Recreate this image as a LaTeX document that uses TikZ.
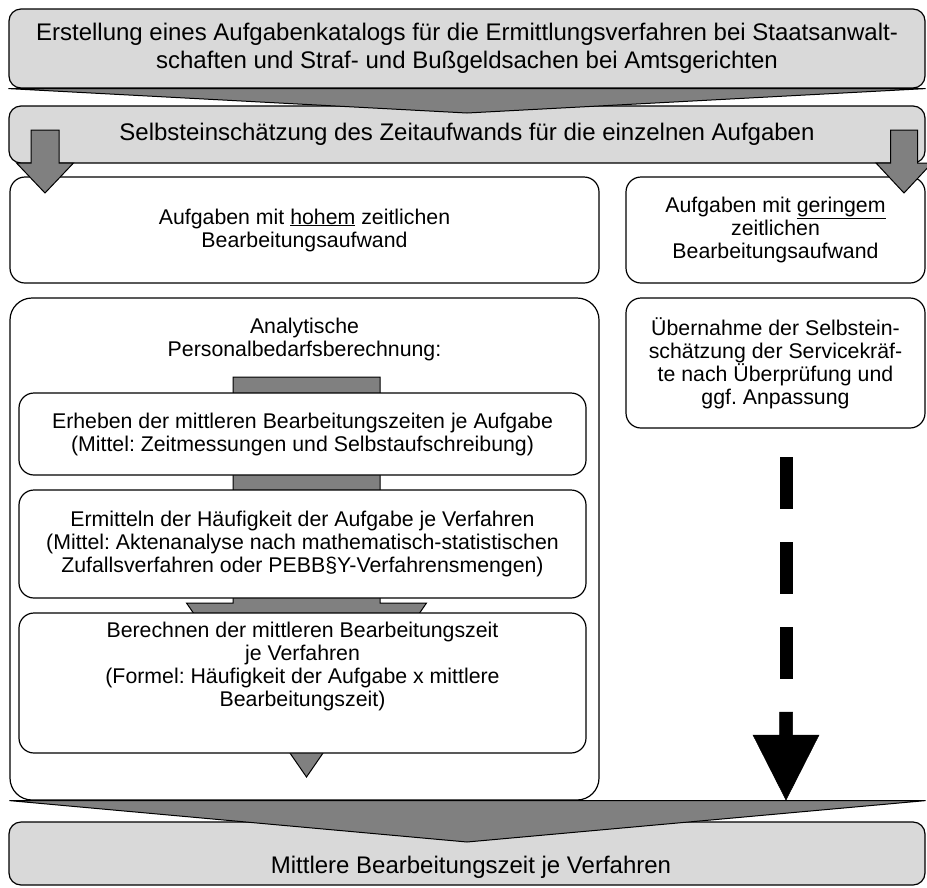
\documentclass[tikz,border=0pt]{standalone}
\usepackage{fontspec}
\setmainfont{Liberation Sans}
\usetikzlibrary{positioning}
\frenchspacing

\definecolor{hellgrau}{RGB}{217,217,217}
\definecolor{dunkelgrau}{RGB}{128,128,128}

% block arrow pointing down: style, x, shaft top, head top, tip, half shaft, half head
\newcommand{\blockpfeil}[7]{%
  \filldraw[#1] (#2-#6,#3) -- (#2+#6,#3) -- (#2+#6,#4) -- (#2+#7,#4) -- (#2,#5)
    -- (#2-#7,#4) -- (#2-#6,#4) -- cycle;}

\begin{document}
\begin{tikzpicture}[x=1pt, y=1pt, line width=1.2pt,
    grey node/.style={rectangle, rounded corners=12pt, draw, fill=hellgrau, font=\fontsize{24}{28.5}\selectfont},
    white node/.style={rectangle, rounded corners=15pt, draw, fill=white},
    dark arrow/.style={draw, fill=dunkelgrau, line width=1pt},
    black arrow/.style={fill=black, line width=0.5pt}]
            \tikzstyle{every node}=[font=\fontsize{21.3}{23}\selectfont, align=center]

            \useasboundingbox (0,0) rectangle (927,-887);

              \node[grey node, minimum width=916pt, minimum height=79pt] (1) at (467,-48.5) {Erstellung eines Aufgabenkatalogs für die Ermittlungsverfahren bei Staatsanwalt-\\schaften und Straf- und Bußgeldsachen bei Amtsgerichten};
              \node[grey node, minimum width=916pt, minimum height=57pt] (2) at (467,-134.5) {Selbsteinschätzung des Zeitaufwands für die einzelnen Aufgaben};
              \filldraw[dark arrow] (1.south west) -- (1.south east) -- (467,-113) -- cycle;

              \node[white node, minimum width=589pt, minimum height=106pt] (3) at (304.5,-230) {Aufgaben mit \underline{hohem} zeitlichen\\Bearbeitungsaufwand};
              \node[white node, minimum width=299pt, minimum height=106pt] (4) at (775.5,-230) {Aufgaben mit \underline{geringem}\\zeitlichen\\Bearbeitungsaufwand};
              \blockpfeil{dark arrow}{45}{-130}{-163}{-193}{14}{28.5}
              \blockpfeil{dark arrow}{904}{-130}{-163}{-193}{13.5}{28}

              \node[white node, rounded corners=22pt, minimum width=589pt, minimum height=502pt] (5) at (304.5,-549) {};
              \node[below=17pt of 5.north] (5a) {Analytische\\Personalbedarfsberechnung:};
              \node[white node, minimum width=299pt, minimum height=130pt] (6) at (775.5,-363) {Übernahme der Selbstein-\\schätzung der Servicekräf-\\te nach Überprüfung und\\ggf. Anpassung};

              \blockpfeil{dark arrow}{306.5}{-377}{-603}{-777}{73.5}{120}
              \node[white node, minimum width=567pt, minimum height=82pt] (7) at (302.5,-434) {Erheben der mittleren Bearbeitungszeiten je Aufgabe\\(Mittel: Zeitmessungen und Selbstaufschreibung)};
              \node[white node, minimum width=567pt, minimum height=108pt] (8) at (302.5,-544) {Ermitteln der Häufigkeit der Aufgabe je Verfahren\\(Mittel: Aktenanalyse nach mathematisch-statistischen\\Zufallsverfahren oder PEBB§Y-Verfahrensmengen)};
              \node[white node, minimum width=567pt, minimum height=140pt] (9) at (302.5,-683) {};
              \node (9a) at (302.5,-666) {Berechnen der mittleren Bearbeitungszeit\\je Verfahren\\(Formel: Häufigkeit der Aufgabe x mittlere\\Bearbeitungszeit)};

              \node[grey node, minimum width=916pt, minimum height=63pt] (10) at (467,-853.5) {};
              \node[font=\fontsize{24}{28.5}\selectfont] (10a) at (471,-867) {Mittlere Bearbeitungszeit je Verfahren};
              \filldraw[dark arrow] (5.south west) -- (5.south west -| 10.east) -- (467,-842) -- cycle;

              % dashed shaft of the black arrow
              \foreach \y in {457,542,627}
                \fill (779.5,-\y) rectangle (792.5,-\y-52);
              \blockpfeil{black arrow}{786}{-712}{-735}{-800}{6.5}{33}

\end{tikzpicture}
\end{document}
